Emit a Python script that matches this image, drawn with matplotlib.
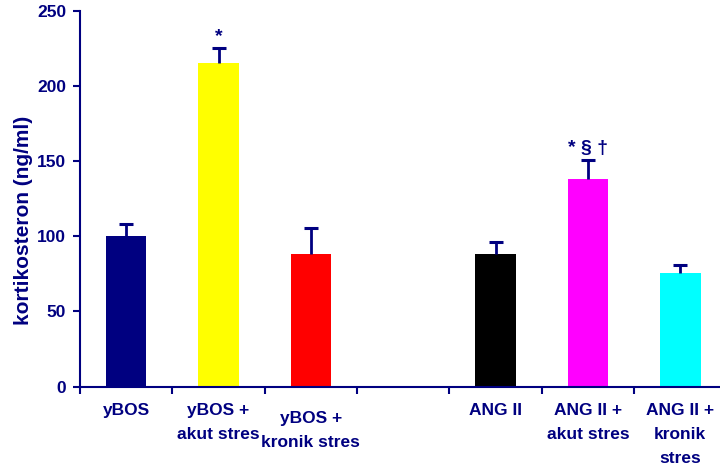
import matplotlib
matplotlib.use("Agg")
import matplotlib.pyplot as plt
import numpy as np

plt.rcParams['font.family'] = ['Liberation Sans', 'DejaVu Sans']

labels = ["yBOS", "yBOS +\nakut stres", "yBOS +\nkronik stres", "",
          "ANG II", "ANG II +\nakut stres", "ANG II +\nkronik\nstres"]
values = [100, 215.5, 88, None, 88, 138, 75.5]
errors = [8, 9.5, 17.5, None, 8, 13, 5.5]
colors = ["#000080", "#ffff00", "#ff0000", None, "#000000", "#ff00ff", "#00ffff"]
marks = ["", "*", "", "", "", "* § †", ""]

navy = "#000080"

fig = plt.figure(figsize=(7.2, 4.75), dpi=100)
ax = fig.add_axes([80 / 720, 1 - 386.7 / 475, 1 - 80 / 720, (386.7 - 10.7) / 475])

for i, (v, e, c, m) in enumerate(zip(values, errors, colors, marks)):
    if v is None:
        continue
    ax.bar(i, v, width=0.44, color=c, zorder=2)
    # upper error bar only
    ax.vlines(i, v, v + e, colors=navy, linewidth=2, zorder=3)
    ax.plot(i, v + e, marker='_', markersize=10, mew=2.2, color=navy, zorder=3)
    if m:
        ax.text(i, v + e + 2, m, ha='center', va='bottom', color=navy,
                fontsize=14, fontweight='bold')

ax.set_xlim(-0.5, 6.43)
ax.set_ylim(0, 250)
ax.set_yticks([0, 50, 100, 150, 200, 250])
ax.set_xticks(np.arange(-0.5, 6.0, 1.0))
ax.set_xticklabels([])
for i, lab in enumerate(labels):
    dy = -5 if i == 2 else 0
    ax.text(i, -11 + dy, lab, ha='center', va='top', color=navy, fontsize=12.5,
            fontweight='bold', linespacing=1.75)

for s in ['top', 'right']:
    ax.spines[s].set_visible(False)
for s in ['left', 'bottom']:
    ax.spines[s].set_color(navy)
    ax.spines[s].set_linewidth(1.5)
ax.tick_params(axis='both', colors=navy, width=1.5, length=5, direction='out')
ax.tick_params(axis='y', labelsize=12.5, pad=5)
for t in ax.get_yticklabels():
    t.set_fontweight('bold')
    t.set_color(navy)

ax.set_ylabel("kortikosteron (ng/ml)", color=navy, fontsize=15,
              fontweight='bold', va='center')
ax.yaxis.set_label_coords(-0.089, 0.443)

fig.savefig("out.png", dpi=100)
